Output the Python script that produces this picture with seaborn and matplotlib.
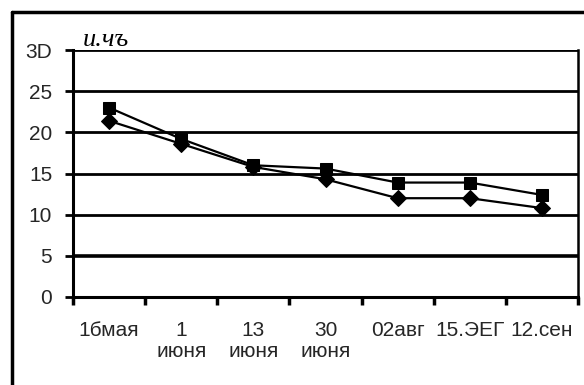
import matplotlib
matplotlib.use("Agg")
import matplotlib.pyplot as plt
from matplotlib.lines import Line2D
import numpy as np
import pandas as pd
import seaborn as sns

# dates along the x axis
dates = ["1бмая", "1\nиюня", "13\nиюня", "30\nиюня", "02авг", "15.ЭЕГ", "12.сен"]
# two measured series
series_square = [23.0, 19.2, 16.0, 15.6, 13.9, 13.9, 12.4]
series_diamond = [21.4, 18.6, 15.8, 14.3, 12.0, 12.0, 10.8]
# y tick labels
y_ticks = [0, 5, 10, 15, 20, 25, 30]
y_labels = ["0", "5", "10", "15", "20", "25", "3D"]
unit_label = "и.чъ"

sns.set_theme(style="white")
plt.rcParams["font.family"] = ["Liberation Sans", "DejaVu Sans"]

pos = np.arange(len(dates))
df = pd.DataFrame({
    "pos": np.concatenate([pos, pos]),
    "value": series_square + series_diamond,
    "series": ["a"] * len(dates) + ["b"] * len(dates),
})

fig = plt.figure(figsize=(5.84, 3.85), dpi=100)
ax = fig.add_axes([73 / 584, 1 - 297 / 385, (578 - 73) / 584, (297 - 50) / 385])

# horizontal grid lines
for y in y_ticks[1:]:
    ax.axhline(y, color="black", lw=2.0 if y != 5 else 2.6, zorder=1)

sns.lineplot(data=df, x="pos", y="value", style="series",
             markers={"a": "s", "b": "D"}, dashes=False, color="black",
             linewidth=1.6, markersize=8, markeredgecolor="black",
             legend=False, ax=ax, zorder=3)

ax.set_xlim(-0.5, len(dates) - 0.5)
ax.set_ylim(0, 30)
ax.set_xlabel("")
ax.set_ylabel("")

ax.set_yticks(y_ticks)
ax.set_yticklabels(y_labels)
ax.set_xticks(pos)
ax.set_xticklabels(dates, linespacing=1.15)
ax.set_xticks(np.arange(-0.5, len(dates)), minor=True)

ax.tick_params(axis="x", which="major", length=0, pad=17, labelsize=15)
ax.tick_params(axis="x", which="minor", length=6, width=2.5, direction="out",
               bottom=True, color="black")
ax.tick_params(axis="y", length=6, width=2, direction="out", left=True,
               pad=9, labelsize=15, color="black")

for side in ["left", "bottom"]:
    ax.spines[side].set_color("black")
    ax.spines[side].set_linewidth(2.2)
ax.spines["top"].set_visible(False)
ax.spines["right"].set_color("black")
ax.spines["right"].set_linewidth(1.8)

ax.text(0.02, 0.995, unit_label, transform=ax.transAxes, fontsize=19,
        style="italic", family=["Liberation Serif", "DejaVu Serif"],
        ha="left", va="bottom", color="black")

# outer frame (top and left edges)
fig.add_artist(Line2D([12 / 584, 1.0], [1 - 12 / 385, 1 - 12 / 385],
                      transform=fig.transFigure, color="black", lw=2.5))
fig.add_artist(Line2D([12 / 584, 12 / 584], [1 - 12 / 385, 0.0],
                      transform=fig.transFigure, color="black", lw=2.5))

fig.savefig("out.png", dpi=100)
